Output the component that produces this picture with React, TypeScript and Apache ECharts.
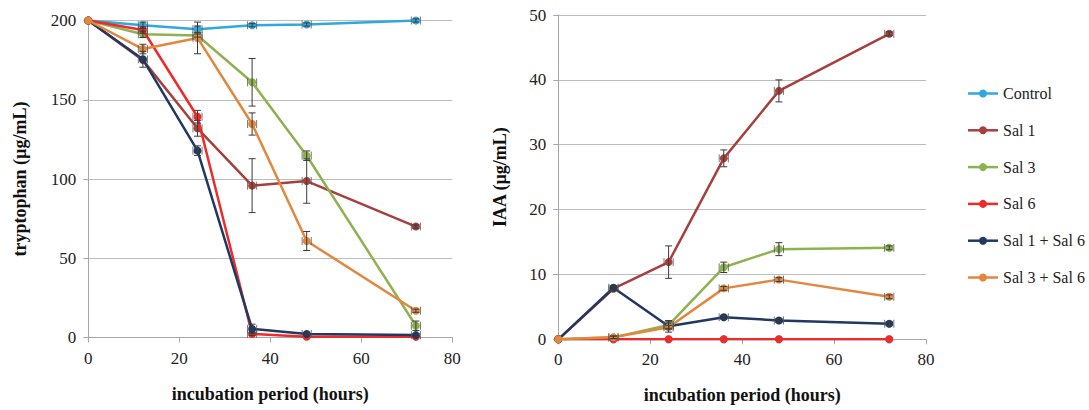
import React, { useEffect, useRef } from "react";
import * as echarts from "echarts";

const hours = [0, 12, 24, 36, 48, 72];
const seriesNames = ["Control", "Sal 1", "Sal 3", "Sal 6", "Sal 1 + Sal 6", "Sal 3 + Sal 6"];
const seriesColors = ["#2FA8DF", "#A6403C", "#8DB24F", "#F02A28", "#1F3962", "#E2873D"];

// tryptophan (µg/mL)
const trpControl = [200, 197, 194.5, 197, 197.5, 200];
const trpSal1 = [200, 175, 132, 95.8, 98.7, 70];
const trpSal3 = [200, 191.3, 190.5, 161, 114.7, 7.4];
const trpSal6 = [200, 194, 139.3, 2.2, 0.5, 0.4];
const trpSal1Sal6 = [200, 175.5, 117.9, 5.4, 2.2, 1.5];
const trpSal3Sal6 = [200, 182, 189, 134.7, 60.9, 16.9];
const trpErrControl = [0, 2, 2, 1, 1, 1];
const trpErrSal1 = [0, 0, 5, 17, 14, 1];
const trpErrSal3 = [0, 2, 1, 15, 3, 3];
const trpErrSal6 = [0, 2, 4, 1, 0, 0];
const trpErrSal1Sal6 = [0, 5, 3, 3, 1, 1];
const trpErrSal3Sal6 = [0, 3, 10, 7, 6, 1];

// IAA (µg/mL)
const iaaControl = [0, 0, 0, 0, 0, 0];
const iaaSal1 = [0, 7.8, 11.9, 27.9, 38.3, 47.1];
const iaaSal3 = [0, 0.3, 2.2, 11.1, 13.9, 14.1];
const iaaSal6 = [0, 0, 0, 0, 0, 0];
const iaaSal1Sal6 = [0, 7.95, 2.0, 3.4, 2.9, 2.4];
const iaaSal3Sal6 = [0, 0.3, 1.85, 7.85, 9.2, 6.55];
const iaaErrControl = [0, 0, 0, 0, 0, 0];
const iaaErrSal1 = [0, 0.3, 2.5, 1.3, 1.7, 0.3];
const iaaErrSal3 = [0, 0.2, 0.5, 0.8, 1.0, 0.3];
const iaaErrSal6 = [0, 0, 0, 0, 0, 0];
const iaaErrSal1Sal6 = [0, 0.3, 0.9, 0.3, 0.3, 0.3];
const iaaErrSal3Sal6 = [0, 0.2, 0.3, 0.3, 0.3, 0.3];

const xTicks = [0, 20, 40, 60, 80];

const FONT = "Liberation Serif";

function buildPairs(vals: number[]) {
  return hours.map((h, i) => [h, vals[i]]);
}

function buildErr(vals: number[][], errs: number[][]) {
  const out: number[][] = [];
  vals.forEach((v, s) => {
    hours.forEach((h, i) => {
      if (errs[s][i] > 0) out.push([h, v[i], errs[s][i]]);
    });
  });
  return out;
}

const renderErr = (params: any, api: any) => {
  const x = api.value(0);
  const y = api.value(1);
  const e = api.value(2);
  const top = api.coord([x, y + e]);
  const bot = api.coord([x, y - e]);
  const c = api.coord([x, y]);
  const l = api.coord([x - 1, y]);
  const r = api.coord([x + 1, y]);
  const style = { stroke: "#3a3a3a", lineWidth: 1 };
  const capStyle = { stroke: "#555", lineWidth: 0.8 };
  return {
    type: "group",
    children: [
      { type: "line", shape: { x1: c[0], y1: top[1], x2: c[0], y2: bot[1] }, style },
      { type: "line", shape: { x1: c[0] - 3.5, y1: top[1], x2: c[0] + 3.5, y2: top[1] }, style },
      { type: "line", shape: { x1: c[0] - 3.5, y1: bot[1], x2: c[0] + 3.5, y2: bot[1] }, style },
      { type: "line", shape: { x1: l[0], y1: c[1] - 4, x2: l[0], y2: c[1] + 4 }, style: capStyle },
      { type: "line", shape: { x1: r[0], y1: c[1] - 4, x2: r[0], y2: c[1] + 4 }, style: capStyle },
    ],
  };
};

// legend key: a line with a dot, drawn in the legend grid
const renderKey = (params: any, api: any) => {
  const cat = api.value(1);
  const a = api.coord([0, cat]);
  const b = api.coord([1, cat]);
  const m = api.coord([0.5, cat]);
  const color = seriesColors[params.dataIndex];
  return {
    type: "group",
    children: [
      { type: "line", shape: { x1: a[0], y1: a[1], x2: b[0], y2: b[1] }, style: { stroke: color, lineWidth: 2.5 } },
      { type: "circle", shape: { cx: m[0], cy: m[1], r: 4 }, style: { fill: color } },
    ],
  };
};

export default function App() {
  const ref = useRef<HTMLDivElement>(null);
  useEffect(() => {
    if (!ref.current) return;
    const chart = echarts.init(ref.current, null, { renderer: "svg" });
    const trp = [trpControl, trpSal1, trpSal3, trpSal6, trpSal1Sal6, trpSal3Sal6];
    const trpErr = [trpErrControl, trpErrSal1, trpErrSal3, trpErrSal6, trpErrSal1Sal6, trpErrSal3Sal6];
    const iaa = [iaaControl, iaaSal1, iaaSal3, iaaSal6, iaaSal1Sal6, iaaSal3Sal6];
    const iaaErr = [iaaErrControl, iaaErrSal1, iaaErrSal3, iaaErrSal6, iaaErrSal1Sal6, iaaErrSal3Sal6];

    const axisLine = { show: true, lineStyle: { color: "#A6A6A6", width: 1 } };
    const axisTick = { show: true, length: 5, lineStyle: { color: "#A6A6A6" } };
    const axisLabel = { color: "#222", fontFamily: FONT, fontSize: 17 };
    const nameStyle = { color: "#111", fontFamily: FONT, fontSize: 18, fontWeight: "bold" as const };

    const lineSeries = (data: number[][], idx: number, axis: number) => ({
      type: "line",
      name: seriesNames[idx],
      xAxisIndex: axis,
      yAxisIndex: axis,
      data: buildPairs(data[idx] as any) as any,
      symbol: "circle",
      symbolSize: 8,
      showSymbol: true,
      lineStyle: { color: seriesColors[idx], width: 2.5 },
      itemStyle: { color: seriesColors[idx] },
      z: 2 + idx,
    });

    const series: any[] = [];
    seriesNames.forEach((_, i) => series.push(lineSeries(trp as any, i, 0)));
    seriesNames.forEach((_, i) => series.push(lineSeries(iaa as any, i, 1)));
    series.push({
      type: "custom",
      xAxisIndex: 0,
      yAxisIndex: 0,
      renderItem: renderErr,
      data: buildErr(trp, trpErr),
      z: 20,
      silent: true,
    });
    series.push({
      type: "custom",
      xAxisIndex: 1,
      yAxisIndex: 1,
      renderItem: renderErr,
      data: buildErr(iaa, iaaErr),
      z: 20,
      silent: true,
    });
    series.push({
      type: "custom",
      xAxisIndex: 2,
      yAxisIndex: 2,
      renderItem: renderKey,
      data: seriesNames.map((_, i) => [0.5, i]),
      silent: true,
    });

    chart.setOption({
      animation: false,
      color: seriesColors,
      textStyle: { fontFamily: FONT },
      grid: [
        { left: 88.3, top: 20.5, width: 364, height: 317 },
        { left: 558.3, top: 15, width: 367.7, height: 324.3 },
        { left: 968, top: 75.1, width: 30, height: 220.8 },
      ],
      xAxis: [
        ...[0, 1].map((g) => ({
          type: "value",
          gridIndex: g,
          min: xTicks[0],
          max: xTicks[xTicks.length - 1],
          interval: 20,
          axisLine,
          axisTick,
          axisLabel: { ...axisLabel, margin: 12 },
          splitLine: { show: false },
          name: "incubation period (hours)",
          nameLocation: "middle",
          nameGap: 47,
          nameTextStyle: nameStyle,
        })),
        { type: "value", gridIndex: 2, min: 0, max: 1, show: false },
      ],
      yAxis: [
        {
          type: "value",
          gridIndex: 0,
          min: 0,
          max: 200,
          interval: 50,
          axisLine,
          axisTick,
          axisLabel: { ...axisLabel, margin: 12 },
          splitLine: { show: true, lineStyle: { color: "#BDBDBD", width: 1 } },
          name: "tryptophan (µg/mL)",
          nameLocation: "middle",
          nameGap: 59,
          nameTextStyle: nameStyle,
        },
        {
          type: "value",
          gridIndex: 1,
          min: 0,
          max: 50,
          interval: 10,
          axisLine,
          axisTick,
          axisLabel: { ...axisLabel, margin: 12 },
          splitLine: { show: true, lineStyle: { color: "#BDBDBD", width: 1 } },
          name: "IAA (µg/mL)",
          nameLocation: "middle",
          nameGap: 49,
          nameTextStyle: nameStyle,
        },
        {
          type: "category",
          gridIndex: 2,
          data: seriesNames,
          inverse: true,
          position: "right",
          axisLine: { show: false },
          axisTick: { show: false },
          splitLine: { show: false },
          axisLabel: { color: "#222", fontFamily: FONT, fontSize: 16, margin: 5, interval: 0 },
        },
      ],
      series,
    });
    return () => chart.dispose();
  }, []);
  return (
    <div
      ref={ref}
      style={{ position: "fixed", left: 0, top: 0, width: 1089, height: 410, background: "#fff" }}
    />
  );
}
